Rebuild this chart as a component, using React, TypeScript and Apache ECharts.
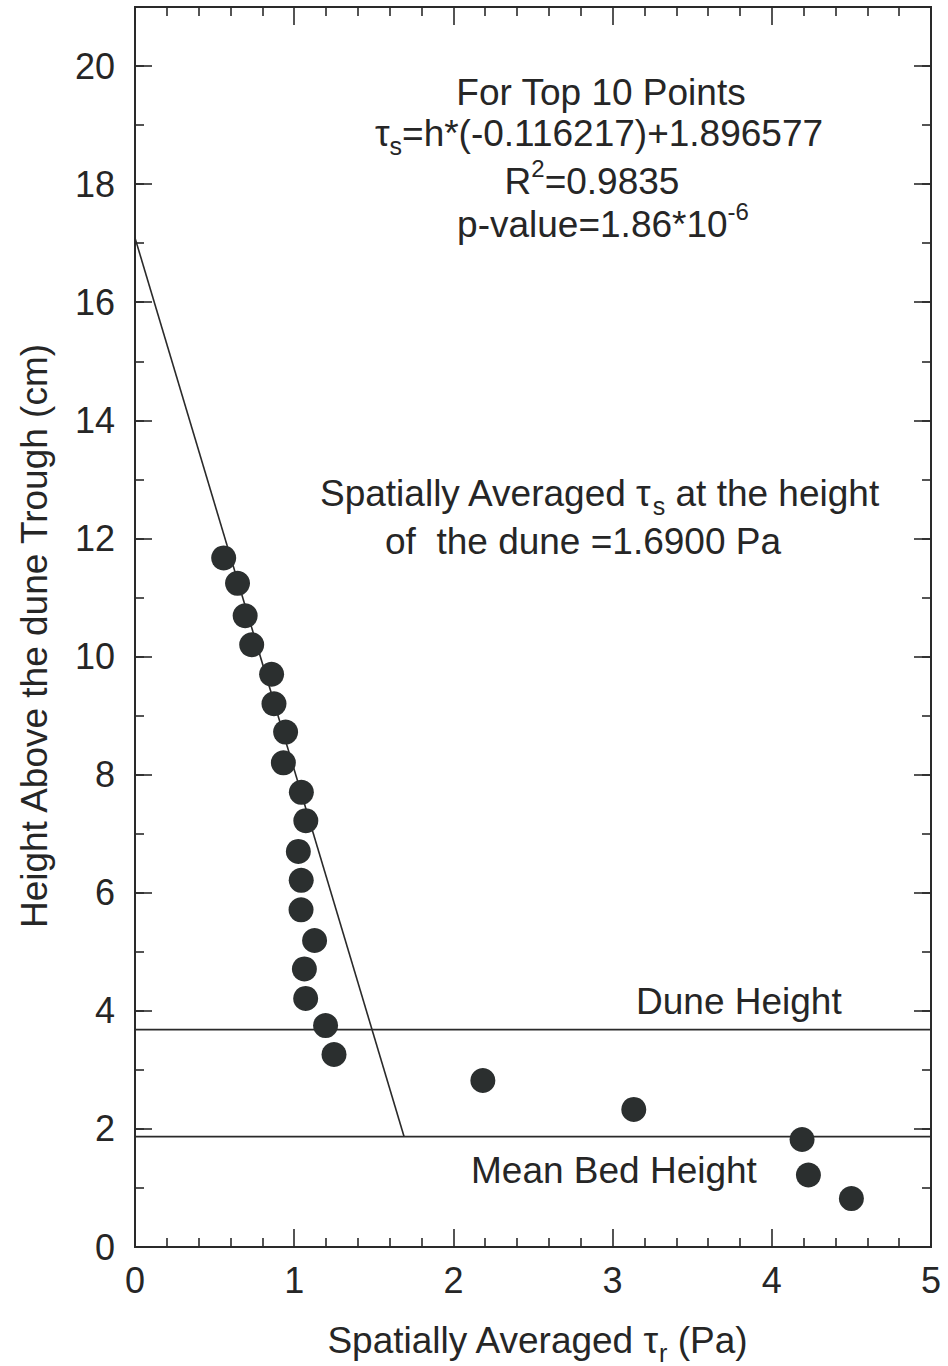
import React, { useEffect, useRef } from "react";
import * as echarts from "echarts";

// Measured shear stress (Pa) and height above the dune trough (cm)
const tauValues = [
  0.557, 0.644, 0.692, 0.733, 0.858, 0.873, 0.946, 0.932, 1.045, 1.073, 1.026,
  1.044, 1.043, 1.128, 1.064, 1.072, 1.197, 1.25, 2.185, 3.133, 4.19, 4.23, 4.5,
];
const heightValues = [
  11.67, 11.24, 10.69, 10.2, 9.7, 9.2, 8.72, 8.2, 7.7, 7.22, 6.7, 6.21, 5.71,
  5.19, 4.71, 4.21, 3.75, 3.26, 2.82, 2.33, 1.82, 1.22, 0.82,
];

// Fitted line for the top points (end points)
const fitTau = [0, 1.69];
const fitHeight = [17.09, 1.87];

// Reference levels (cm)
const duneHeight = 3.68;
const meanBedHeight = 1.87;

const xTickLabels = ["0", "1", "2", "3", "4", "5"];
const yTickLabels = ["0", "2", "4", "6", "8", "10", "12", "14", "16", "18", "20"];

const FONT = "'Liberation Sans', Arial, sans-serif";
const INK = "#262626";

const baseRich = {
  b: { fontSize: 37, fontFamily: FONT, fill: INK, lineHeight: 50, verticalAlign: "middle" },
  sub: { fontSize: 25, fontFamily: FONT, fill: INK, lineHeight: 20, verticalAlign: "bottom" },
  sup: { fontSize: 24, fontFamily: FONT, fill: INK, lineHeight: 30, verticalAlign: "top" },
};

function label(text: string, x: number, y: number, align = "center", rotation = 0) {
  return {
    type: "text",
    x,
    y,
    rotation,
    silent: true,
    style: {
      text,
      align,
      verticalAlign: "middle",
      rich: baseRich,
    },
  };
}

const axisLineStyle = { color: "#2a2a2a", width: 2 };
const tickStyle = { color: "#2a2a2a", width: 1.6 };

function xAxis(position: "bottom" | "top", showLabels: boolean) {
  return {
    type: "value",
    position,
    min: 0,
    max: 5,
    interval: 1,
    axisLine: { show: true, onZero: false, lineStyle: axisLineStyle },
    axisTick: { show: true, inside: true, length: 18, lineStyle: tickStyle },
    minorTick: { show: true, splitNumber: 5, length: 9, lineStyle: tickStyle },
    splitLine: { show: false },
    minorSplitLine: { show: false },
    axisLabel: {
      show: showLabels,
      fontSize: 36,
      fontFamily: FONT,
      color: INK,
      margin: 15,
      formatter: (v: number) => xTickLabels[Math.round(v)] ?? "",
    },
  };
}

function yAxis(position: "left" | "right", interval: number, tickLen: number, showLabels: boolean) {
  return {
    type: "value",
    position,
    min: 0,
    max: 21,
    interval,
    axisLine: { show: true, onZero: false, lineStyle: axisLineStyle },
    axisTick: { show: true, inside: true, length: tickLen, lineStyle: tickStyle },
    splitLine: { show: false },
    axisLabel: {
      show: showLabels,
      showMaxLabel: false,
      fontSize: 36,
      fontFamily: FONT,
      color: INK,
      margin: 20,
      formatter: (v: number) => (v <= 20 ? yTickLabels[Math.round(v / 2)] ?? "" : ""),
    },
  };
}

export default function App() {
  const ref = useRef<HTMLDivElement>(null);

  useEffect(() => {
    if (!ref.current) return;
    const chart = echarts.init(ref.current, null, { renderer: "svg" });

    const points = tauValues.map((t, i) => [t, heightValues[i]]);
    const fitLine = fitTau.map((t, i) => [t, fitHeight[i]]);

    const option = {
      animation: false,
      backgroundColor: "#ffffff",
      grid: { left: 135, right: 17, top: 7, bottom: 119, containLabel: false },
      xAxis: [xAxis("bottom", true), xAxis("top", false)],
      yAxis: [
        yAxis("left", 2, 17, true),
        yAxis("left", 1, 9, false),
        yAxis("right", 2, 17, false),
        yAxis("right", 1, 9, false),
      ],
      series: [
        {
          type: "line",
          data: fitLine,
          symbol: "none",
          lineStyle: { color: "#2a2a2a", width: 1.6 },
          silent: true,
        },
        {
          type: "line",
          data: [
            [0, duneHeight],
            [5, duneHeight],
          ],
          symbol: "none",
          lineStyle: { color: "#2a2a2a", width: 1.8 },
          silent: true,
        },
        {
          type: "line",
          data: [
            [0, meanBedHeight],
            [5, meanBedHeight],
          ],
          symbol: "none",
          lineStyle: { color: "#2a2a2a", width: 1.8 },
          silent: true,
        },
        {
          type: "scatter",
          data: points,
          symbol: "circle",
          symbolSize: 25,
          itemStyle: { color: "#2b2f2f", opacity: 1 },
          z: 5,
        },
      ],
      graphic: [
        label("{b|For Top 10 Points}", 601, 92),
        label("{b|τ}{sub|s}{b|=h*(-0.116217)+1.896577}", 599, 133),
        label("{b|R}{sup|2}{b|=0.9835}", 592, 181),
        label("{b|p-value=1.86*10}{sup|-6}", 603, 224),
        label("{b|Spatially Averaged τ}{sub|s}{b| at the height}", 320, 493, "left"),
        label("{b|of  the dune =1.6900 Pa}", 385, 541, "left"),
        label("{b|Dune Height}", 636, 1001, "left"),
        label("{b|Mean Bed Height}", 471, 1170, "left"),
        label("{b|Spatially Averaged τ}{sub|r}{b| (Pa)}", 537, 1340),
        label("{b|Height Above the dune Trough (cm)}", 34, 636, "center", Math.PI / 2),
      ],
    };

    chart.setOption(option as any);
    return () => chart.dispose();
  }, []);

  return (
    <div
      ref={ref}
      style={{ position: "absolute", left: 0, top: 0, width: 948, height: 1366, background: "#fff" }}
    />
  );
}
